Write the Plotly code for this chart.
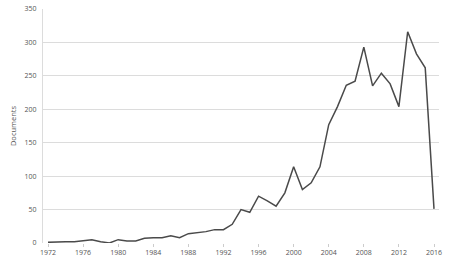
import plotly.graph_objects as go

years = list(range(1972, 2017))
documents = [1, 2, 2, 2, 4, 5, 2, 0, 5, 3, 3, 7, 8, 8, 11, 8, 14, 15, 17, 20,
             20, 28, 50, 46, 70, 63, 55, 75, 114, 80, 90, 114, 177, 204, 236, 242,
             293, 235, 254, 238, 204, 316, 283, 262, 51]
x_ticks = list(range(1972, 2017, 4))
y_ticks = list(range(0, 351, 50))

fig = go.Figure(go.Scatter(x=years, y=documents, mode="lines",
                           line=dict(color="#4a4a4a", width=1.5)))
fig.update_layout(
    width=452, height=262,
    margin=dict(l=43, r=13, t=4, b=19),
    plot_bgcolor="white", paper_bgcolor="white",
    font=dict(family="Open Sans, DejaVu Sans", size=7, color="#555"),
    showlegend=False,
)
fig.update_xaxes(range=[1971.43, 2016.57], tickvals=x_ticks, showgrid=False,
                 ticks="outside", ticklen=3, tickcolor="#ccc", zeroline=False,
                 showline=False, tickfont=dict(size=7, color="#555"),
                 ticklabeloverflow="allow")
fig.update_yaxes(range=[0, 350], tickvals=y_ticks, showgrid=True, gridcolor="#dcdcdc",
                 gridwidth=1, zeroline=False, showline=True, linecolor="#dcdcdc",
                 ticklabelstandoff=4, ticklabeloverflow="allow",
                 title=dict(text="Documents", font=dict(size=7.5, color="#555"), standoff=6),
                 tickfont=dict(size=7, color="#555"))
fig.write_html("out.html", config={"displayModeBar": False},
               post_script="document.body.style.margin='0';document.body.style.overflow='hidden';")
